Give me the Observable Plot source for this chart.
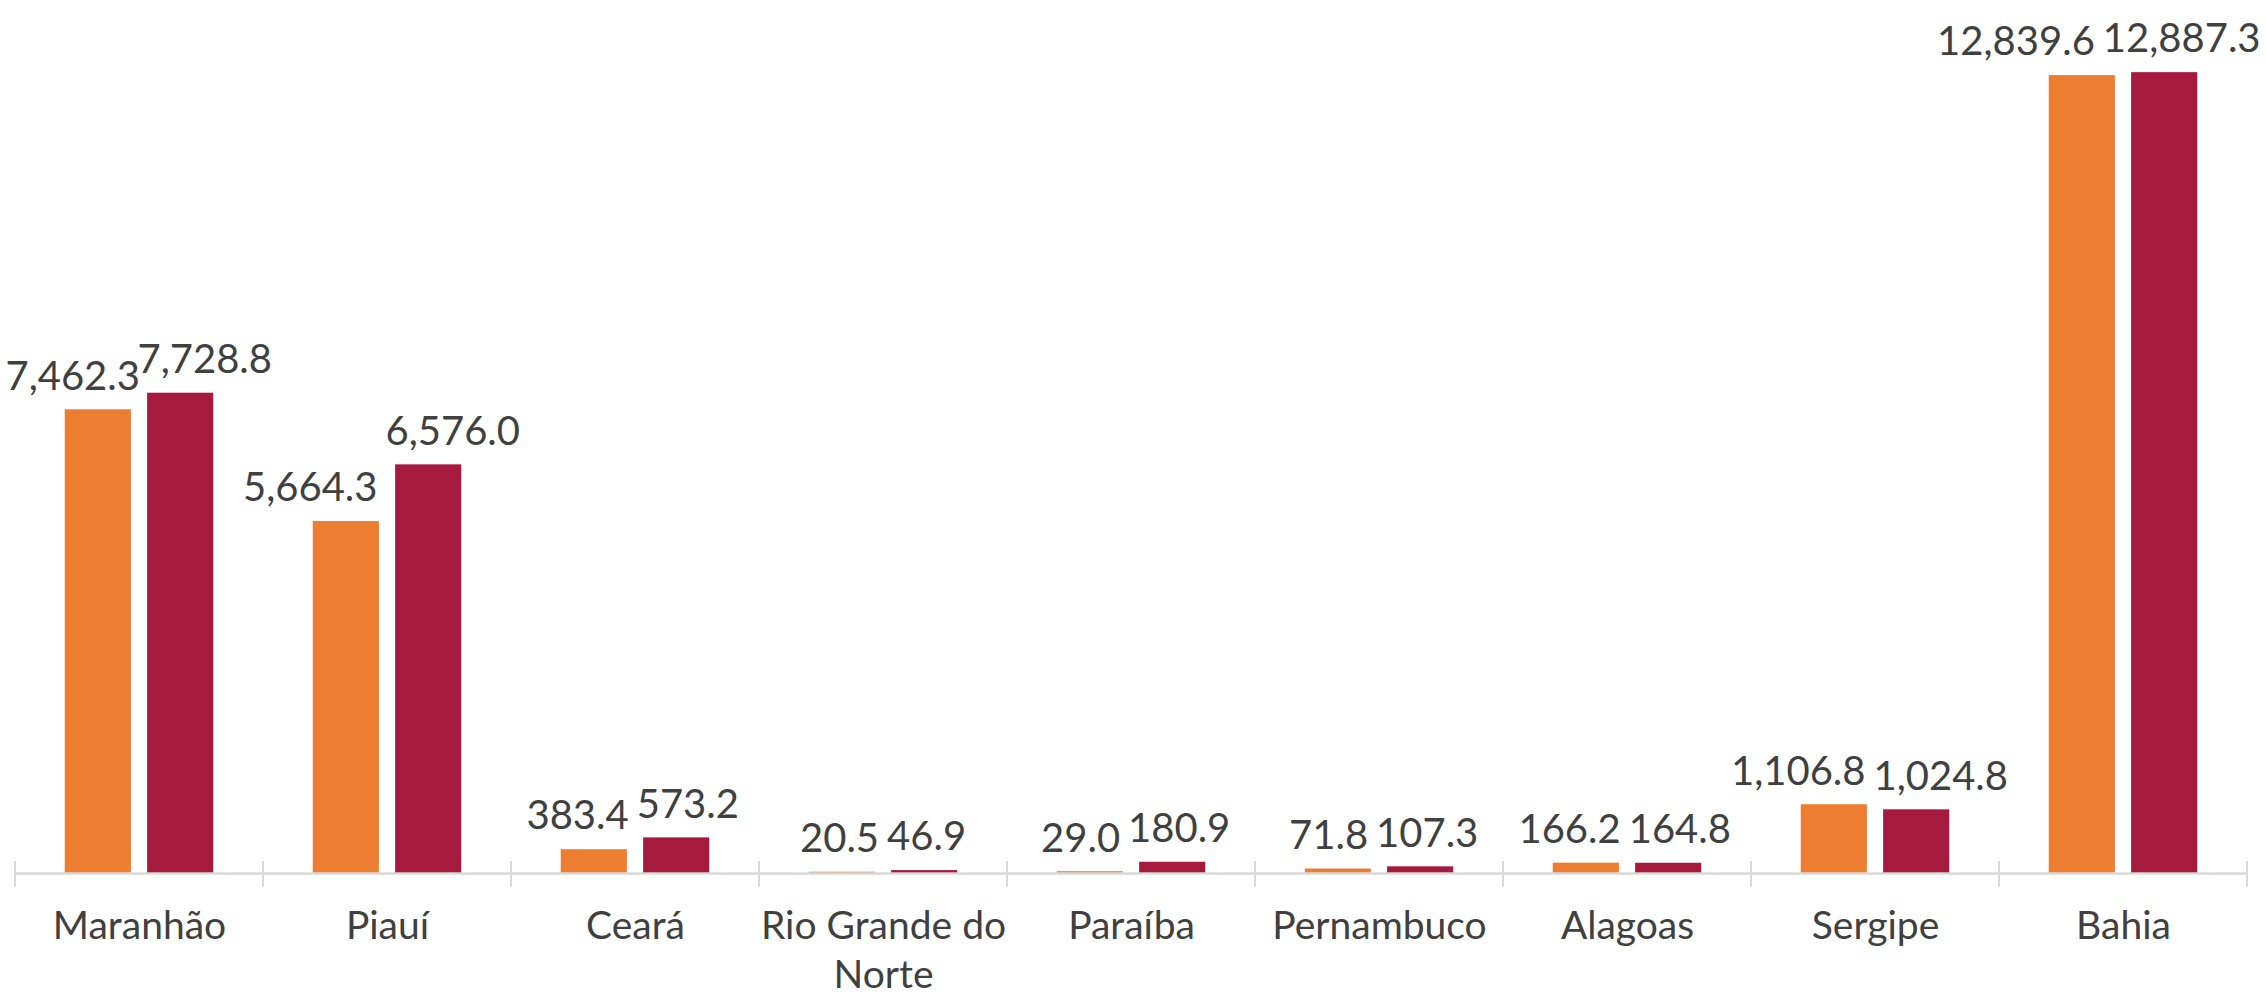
<!DOCTYPE html>
<html>
<head>
<meta charset="utf-8">
<script src="https://cdn.jsdelivr.net/npm/d3@7"></script>
<script src="https://cdn.jsdelivr.net/npm/@observablehq/plot@0.6"></script>
<style>
  html, body { margin: 0; padding: 0; background: #ffffff; }
  #chart svg { display: block; }
</style>
</head>
<body>
<div id="chart"></div>
<script>
// ---- Data ----
const categories = ["Maranhão", "Piauí", "Ceará", "Rio Grande do Norte", "Paraíba", "Pernambuco", "Alagoas", "Sergipe", "Bahia"];
const seriesNames = ["Série 1", "Série 2"];
const serie1 = [7462.3, 5664.3, 383.4, 20.5, 29.0, 71.8, 166.2, 1106.8, 12839.6];
const serie2 = [7728.8, 6576.0, 573.2, 46.9, 180.9, 107.3, 164.8, 1024.8, 12887.3];
const categoryLabels = {"Rio Grande do Norte": "Rio Grande do\nNorte"};

const colors = ["#ED7D31", "#A61A3D"];
const textColor = "#404040";
const axisColor = "#D9D9D9";
const font = "Lato, 'Open Sans', sans-serif";
const labelSize = 40;
const catSize = 39;

// ---- Layout ----
const W = 2266, H = 997, mL = 14, mR = 19, mT = 3, mB = 124;
const bw = (W - mL - mR) / categories.length;
const barW = bw * 0.267;
const gap = bw * 0.065;
const outer = (bw - 2 * barW - gap) / 2;
const halfStep = (barW + gap) / 2;

const fmt = d3.format(",.1f");

const rows1 = categories.map((c, i) => ({category: c, series: seriesNames[0], value: serie1[i]}));
const rows2 = categories.map((c, i) => ({category: c, series: seriesNames[1], value: serie2[i]}));

// measure label widths to push apart overlapping labels
const ctx = document.createElement("canvas").getContext("2d");
ctx.font = `${labelSize}px Lato`;
const tw = s => ctx.measureText(s).width;

const labelMarks = categories.flatMap((c, i) => {
  const a = fmt(serie1[i]), b = fmt(serie2[i]);
  const need = Math.max(0, (tw(a) + tw(b)) / 2 + 8 - 2 * halfStep);
  let pushL = need * 0.6, pushR = need * 0.4;
  const center = mL + bw * (i + 0.5);
  // keep the right label inside the chart
  const overR = center + halfStep + pushR + tw(b) / 2 - (W - 6);
  if (overR > 0) { pushR -= overR; pushL += overR; }
  // keep the left label inside the chart
  const overL = 4 - (center - halfStep - pushL - tw(a) / 2);
  if (overL > 0) { pushL -= overL; }
  return [
    Plot.text([rows1[i]], {x: "category", y: "value", text: d => fmt(d.value), dx: -halfStep - pushL, dy: -33,
      lineAnchor: "middle", fontSize: labelSize, fill: textColor}),
    Plot.text([rows2[i]], {x: "category", y: "value", text: d => fmt(d.value), dx: halfStep + pushR, dy: -33,
      lineAnchor: "middle", fontSize: labelSize, fill: textColor})
  ];
});

function boundaryTicks(index, scales) {
  const x = scales.x, y = scales.y;
  const edges = categories.map(c => x(c)).concat([x(categories[categories.length - 1]) + x.bandwidth()]);
  const y0 = y(0);
  const g = d3.create("svg:g");
  g.selectAll("line").data(edges).join("line")
    .attr("x1", d => d).attr("x2", d => d)
    .attr("y1", y0 - 12).attr("y2", y0 + 14)
    .attr("stroke", axisColor).attr("stroke-width", 2);
  return g.node();
}

const chart = Plot.plot({
  width: W,
  height: H,
  marginLeft: mL,
  marginRight: mR,
  marginTop: mT,
  marginBottom: mB,
  style: {fontFamily: font, background: "#ffffff", color: textColor},
  x: {domain: categories, padding: 0, axis: null},
  y: {domain: [0, 14000], axis: null},
  marks: [
    Plot.barY(rows1, {x: "category", y: "value", fill: colors[0], insetLeft: outer, insetRight: bw - outer - barW}),
    Plot.barY(rows2, {x: "category", y: "value", fill: colors[1], insetLeft: outer + barW + gap, insetRight: outer}),
    Plot.ruleY([0], {stroke: axisColor, strokeWidth: 2.5}),
    boundaryTicks,
    Plot.axisX({tickSize: 0, tickPadding: 31, fontSize: catSize, lineHeight: 1.25, fill: textColor, label: null,
      tickFormat: d => categoryLabels[d] ?? d}),
    ...labelMarks
  ]
});

document.getElementById("chart").appendChild(chart);
</script>
</body>
</html>
